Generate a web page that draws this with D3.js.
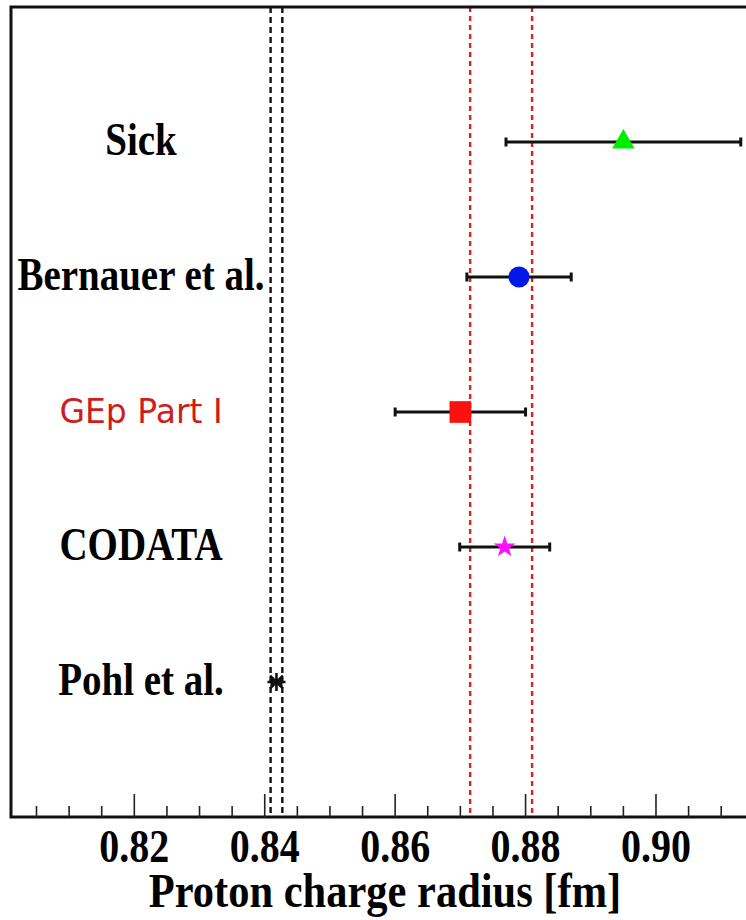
<!DOCTYPE html>
<html>
<head>
<meta charset="utf-8">
<script src="https://cdn.jsdelivr.net/npm/d3@7"></script>
<style>
  html, body { margin: 0; padding: 0; background: #fff; overflow: hidden; }
  svg { display: block; }
</style>
</head>
<body>
<svg id="chart" width="746" height="920"></svg>
<script>
// Proton charge radius determinations
const labels  = ["Sick", "Bernauer et al.", "GEp Part I", "CODATA", "Pohl et al."];
const radius  = [0.895, 0.879, 0.870, 0.8768, 0.8418];
const errLow  = [0.018, 0.008, 0.010, 0.0069, 0.0007];
const errHigh = [0.018, 0.008, 0.010, 0.0069, 0.0007];
const markers = ["triangle", "circle", "square", "star", "asterisk"];
const colors  = ["#00ee00", "#0018e8", "#ff1010", "#ff10ff", "#111111"];
const labelColors = ["#000", "#000", "#d01c1c", "#000", "#000"];

// Reference bands (vertical dashed lines)
const muonicBand = [0.8409, 0.8427];
const redBand    = [0.8715, 0.8810];

// Axis ticks
const majorTicks = [0.82, 0.84, 0.86, 0.88, 0.90];
const tickLabels = ["0.82", "0.84", "0.86", "0.88", "0.90"];
const minorTicks = [0.805, 0.81, 0.815, 0.825, 0.83, 0.835, 0.845, 0.85, 0.855,
                    0.865, 0.87, 0.875, 0.885, 0.89, 0.895, 0.905, 0.91];

const svg = d3.select("#chart");

const frameLeft = 11, frameTop = 7, frameBottom = 817, frameRight = 790;
const x = d3.scaleLinear().domain([0.80, 0.92]).range([3.9, 786.4]);
const y = d3.scaleLinear().domain([0, 6]).range([frameTop, frameBottom]);

// dashed vertical lines
const vlines = svg.append("g");
muonicBand.forEach(v => {
  vlines.append("line")
    .attr("x1", x(v)).attr("x2", x(v)).attr("y1", frameTop).attr("y2", frameBottom)
    .attr("stroke", "#111").attr("stroke-width", 2.4)
    .attr("stroke-dasharray", "6,4");
});
redBand.forEach(v => {
  vlines.append("line")
    .attr("x1", x(v)).attr("x2", x(v)).attr("y1", frameTop).attr("y2", frameBottom)
    .attr("stroke", "#d42424").attr("stroke-width", 2.4)
    .attr("stroke-dasharray", "5,4");
});

// frame
svg.append("path")
  .attr("d", `M${frameRight},${frameTop}H${frameLeft}V${frameBottom}H${frameRight}`)
  .attr("fill", "none").attr("stroke", "#111").attr("stroke-width", 3);

// ticks pointing into the plot
const ticks = svg.append("g");
majorTicks.forEach(v => {
  ticks.append("line").attr("x1", x(v)).attr("x2", x(v))
    .attr("y1", frameBottom).attr("y2", frameBottom - 23)
    .attr("stroke", "#222").attr("stroke-width", 1.6);
});
minorTicks.forEach(v => {
  ticks.append("line").attr("x1", x(v)).attr("x2", x(v))
    .attr("y1", frameBottom).attr("y2", frameBottom - 11)
    .attr("stroke", "#222").attr("stroke-width", 1.6);
});

const serif = "'Liberation Serif', 'Times New Roman', serif";

// tick labels (tall, condensed bold serif)
majorTicks.forEach((v, i) => {
  svg.append("text")
    .attr("transform", `translate(${x(v)},862) scale(1,1.16)`)
    .attr("text-anchor", "middle")
    .attr("font-family", serif).attr("font-weight", "bold")
    .attr("font-size", 40).attr("fill", "#000")
    .text(tickLabels[i]);
});

// axis title
svg.append("text")
  .attr("transform", `translate(385,907) scale(1,1.12)`)
  .attr("text-anchor", "middle")
  .attr("font-family", serif).attr("font-weight", "bold")
  .attr("font-size", 42.5).attr("fill", "#000")
  .text("Proton charge radius [fm]");

// row labels
labels.forEach((t, i) => {
  const isGep = i === 2;
  svg.append("text")
    .attr("transform", `translate(141,${y(i + 1) + (isGep ? 11 : 13)}) scale(1,${isGep ? 1 : 1.18})`)
    .attr("text-anchor", "middle")
    .attr("font-family", isGep ? "'DejaVu Sans', sans-serif" : serif)
    .attr("font-weight", isGep ? "normal" : "bold")
    .attr("font-size", isGep ? 33 : 39)
    .attr("fill", labelColors[i])
    .text(t);
});

// error bars
const bars = svg.append("g");
radius.forEach((v, i) => {
  const yy = y(i + 1);
  const x0 = x(v - errLow[i]), x1 = x(v + errHigh[i]);
  bars.append("line").attr("x1", x0).attr("x2", x1).attr("y1", yy).attr("y2", yy)
    .attr("stroke", "#111").attr("stroke-width", 3);
  [x0, x1].forEach(xe => {
    bars.append("line").attr("x1", xe).attr("x2", xe).attr("y1", yy - 4.5).attr("y2", yy + 4.5)
      .attr("stroke", "#111").attr("stroke-width", 3);
  });
});

// markers
const symbolFor = {
  triangle: d3.symbol(d3.symbolTriangle, 220)(),
  circle:   d3.symbol(d3.symbolCircle, 350)(),
  square:   d3.symbol(d3.symbolSquare, 470)(),
  star:     d3.symbol(d3.symbolStar, 150)()
};
function asteriskPath(r) {
  const p = d3.path();
  const d = r * Math.SQRT1_2;
  p.moveTo(-r, 0); p.lineTo(r, 0);
  p.moveTo(0, -r); p.lineTo(0, r);
  p.moveTo(-d, -d); p.lineTo(d, d);
  p.moveTo(-d, d); p.lineTo(d, -d);
  return p.toString();
}
const marks = svg.append("g");
radius.forEach((v, i) => {
  const g = marks.append("g").attr("transform", `translate(${x(v)},${y(i + 1)})`);
  if (markers[i] === "asterisk") {
    g.append("path").attr("d", asteriskPath(9))
      .attr("stroke", colors[i]).attr("stroke-width", 2.6).attr("fill", "none");
  } else {
    g.append("path").attr("d", symbolFor[markers[i]]).attr("fill", colors[i]);
  }
});
</script>
</body>
</html>
